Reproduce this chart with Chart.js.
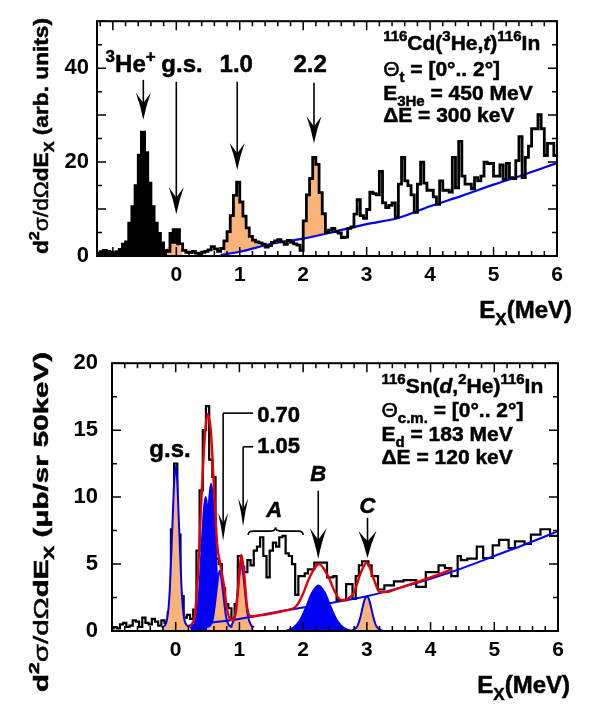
<!DOCTYPE html>
<html>
<head>
<meta charset="utf-8">
<script src="https://cdn.jsdelivr.net/npm/chart.js@4.4.1/dist/chart.umd.min.js"></script>
<style>
    html, body { margin: 0; padding: 0; background: #fff; }
    #wrap { position: relative; width: 589px; height: 704px; }
    #wrap canvas { position: absolute; left: 0; }
</style>
</head>
<body>
<div id="wrap">
    <canvas id="cd-chart" width="589" height="336" style="top:0"></canvas>
    <canvas id="sn-chart" width="589" height="368" style="top:336px"></canvas>
</div>
<script>
/*
 * Upper panel: 116Cd(3He,t)116In, 50 keV bins from -1.25 MeV
 */
const cdBinStart = -1.25;
const cdBinWidth = 0.05;
const cdCounts = [
    0.6, 0.9, 1.2, 1.0, 0.8, 0.6, 0.9, 1.4, 2.5, 3.0,
    7.0, 10.5, 15.0, 21.5, 26.4, 22.0, 15.5, 10.5, 7.0, 4.8,
    2.8, 1.2, 1.0, 4.8, 5.6, 5.6, 2.6, 1.2, 0.8, 0.7,
    1.0, 0.6, 0.5, 0.8, 1.0, 1.3, 2.0, 1.5, 1.0, 1.6,
    3.2, 5.2, 8.6, 12.9, 15.7, 11.5, 8.5, 6.0, 4.2, 3.4,
    3.0, 2.8, 2.5, 1.9, 2.2, 2.9, 3.2, 3.5, 3.0, 2.5,
    3.3, 2.9, 2.6, 2.3, 1.2, 7.5, 13.0, 16.5, 21.0, 19.5,
    13.5, 9.0, 5.0, 5.5, 5.9, 5.2, 4.9, 3.9, 4.0, 5.9,
    6.2, 8.9, 12.0, 8.6, 8.0, 9.9, 13.6, 13.3, 13.0, 18.0,
    11.3, 10.3, 10.8, 11.3, 8.3, 15.3, 21.0, 16.0, 15.0, 13.0,
    9.3, 15.3, 20.0, 15.5, 14.0, 14.0, 12.6, 11.0, 16.0, 14.0,
    14.0, 13.6, 21.0, 14.5, 24.4, 17.0, 15.3, 15.3, 14.3, 16.7,
    16.0, 17.0, 20.0, 19.7, 19.7, 17.0, 17.0, 19.4, 16.3, 19.7,
    16.7, 16.5, 20.3, 25.4, 16.7, 21.0, 23.4, 27.1, 27.1, 30.1,
    27.1, 21.4, 24.0, 24.0, 21.4
];
// bin index ranges: black 3He+ part, orange 1.0 and 2.2 MeV peaks
const cdContamBins = [0, 25];
const cdPeak1Bins  = [40, 50];
const cdPeak2Bins  = [65, 72];
// small orange g.s. contribution
const cdGsStart = -0.15;
const cdGsFill  = [1.8, 2.6, 2.6, 2.3, 1.6];
// blue background curve
const cdBgX = [0.7, 1.0, 1.5, 2.0, 2.5, 3.0, 3.5, 4.0, 4.5, 5.0, 5.5, 6.0];
const cdBgY = [0.2, 0.9, 2.6, 3.7, 5.2, 6.8, 8.1, 10.6, 12.8, 15.2, 17.4, 19.8];
const cdXTicks = [0, 1, 2, 3, 4, 5, 6];
const cdYTicks = [0, 20, 40];

/*
 * Lower panel: 116Sn(d,2He)116In, 50 keV bins centred on multiples of 50 keV
 */
const snBinStart = -1.025;
const snBinWidth = 0.05;
const snCounts = [
    0.2, 0.3, 0.2, 0.5, 0.6, 0.3, 0.4, 0.8, 0.7, 0.3,
    1.0, 0.6, 0.5, 0.9, 0.7, 0.4, 0.8, 0.6, 1.4, 7.6,
    12.5, 7.2, 2.6, 1.0, 1.2, 0.9, 1.6, 6.0, 10.5, 15.0,
    16.8, 12.8, 11.5, 5.4, 5.0, 3.2, 2.0, 1.7, 0.9, 2.0,
    5.6, 4.8, 4.4, 5.3, 4.9, 6.0, 6.3, 7.0, 5.6, 4.0,
    6.0, 6.6, 6.3, 7.0, 7.1, 5.8, 5.6, 5.0, 2.7, 4.1,
    4.1, 4.3, 4.6, 4.6, 5.1, 5.1, 5.1, 5.1, 4.0, 4.0,
    4.1, 2.3, 2.3, 2.3, 3.5, 3.5, 2.4, 4.1, 4.9, 5.2,
    5.2, 4.9, 4.1, 4.1, 3.1, 3.1, 3.4, 3.4, 3.4, 3.7,
    3.7, 3.7, 3.8, 3.8, 3.8, 3.8, 3.3, 3.3, 3.3, 4.4,
    4.4, 4.4, 4.4, 4.9, 4.9, 4.7, 4.7, 4.1, 4.1, 5.6,
    5.3, 5.3, 5.4, 5.4, 5.4, 6.3, 6.3, 5.45, 5.45, 5.45,
    6.4, 6.4, 6.8, 6.8, 6.8, 6.2, 6.2, 6.7, 6.7, 6.7,
    6.5, 6.5, 7.2, 7.2, 7.2, 7.6, 7.6, 7.6, 7.1, 7.1,
    7.1
];
// total fit (red)
const snFitX = [0.22, 0.25, 0.3, 0.35, 0.4, 0.45, 0.5, 0.55,
                0.6, 0.65, 0.7, 0.75, 0.8, 0.85, 0.9, 0.95, 1.0, 1.03, 1.07, 1.12, 1.18, 1.3, 1.5, 1.7,
                1.9, 2.0, 2.1, 2.25, 2.4, 2.5, 2.6, 2.7, 2.8, 2.9, 3.0, 3.1, 3.2, 3.3, 3.5, 3.75, 4.0, 4.33];
const snFitY = [0.4, 0.5, 1.2, 4.3, 9.5, 14.0, 16.2, 15.0,
                10.8, 6.5, 5.0, 3.6, 1.8, 0.9, 0.8, 1.6, 4.4, 5.7, 4.5, 1.8, 1.1, 1.15, 1.3, 1.5,
                1.9, 2.8, 4.0, 5.0, 4.0, 2.9, 2.3, 2.4, 2.9, 4.3, 5.1, 4.0, 2.9, 2.9, 3.2, 3.6, 4.0, 4.6];
// background (blue line)
const snBgX = [0.2, 0.6, 1.0, 1.5, 2.0, 2.5, 3.0, 3.5, 4.0, 4.5, 5.0, 5.5, 6.0];
const snBgY = [0.4, 0.65, 0.9, 1.35, 1.75, 2.15, 2.6, 3.2, 3.9, 4.7, 5.6, 6.5, 7.45];
// single peaks, orange: g.s., 0.70, 1.05, C
const snGsX   = [-0.22, -0.15, -0.1, -0.05, -0.025, 0, 0.025, 0.05, 0.1, 0.15, 0.22];
const snGsY   = [0.25, 0.6, 2.5, 8.1, 11.1, 12.3, 11.1, 8.1, 2.5, 0.6, 0.3];
const sn070X  = [0.49, 0.54, 0.59, 0.64, 0.665, 0.69, 0.715, 0.74, 0.79, 0.84, 0.89];
const sn070Y  = [0.3, 0.4, 1.1, 3.0, 4.0, 4.5, 4.0, 3.0, 1.1, 0.4, 0.3];
const sn105X  = [0.83, 0.88, 0.93, 0.98, 1.005, 1.03, 1.055, 1.08, 1.13, 1.18, 1.23];
const sn105Y  = [0.3, 0.45, 1.2, 3.3, 4.4, 5.0, 4.4, 3.3, 1.2, 0.45, 0.3];
const snCX    = [2.75, 2.85, 2.9, 2.95, 2.975, 3.0, 3.025, 3.05, 3.1, 3.15, 3.25];
const snCY    = [0.0, 0.35, 1.07, 2.1, 2.46, 2.6, 2.46, 2.1, 1.07, 0.35, 0.0];
// single peaks, blue: two at 0.5 MeV, B
const snP1X   = [0.23, 0.3, 0.36, 0.42, 0.445, 0.47, 0.495, 0.52, 0.58, 0.64, 0.71];
const snP1Y   = [0.2, 0.6, 2.4, 7.4, 9.2, 10.0, 9.2, 7.4, 2.4, 0.6, 0.2];
const snP2X   = [0.315, 0.385, 0.445, 0.505, 0.53, 0.555, 0.58, 0.605, 0.665, 0.725, 0.795];
const snP2Y   = [0.2, 0.6, 2.6, 8.1, 10.1, 11.0, 10.1, 8.1, 2.6, 0.6, 0.2];
const snBX    = [1.74, 1.84, 1.94, 2.04, 2.14, 2.24, 2.34, 2.44, 2.54, 2.64, 2.74];
const snBY    = [0.04, 0.21, 0.72, 1.7, 2.85, 3.4, 2.85, 1.7, 0.72, 0.21, 0.04];
const snXTicks = [0, 1, 2, 3, 4, 5, 6];
const snYTicks = [0, 5, 10, 15, 20];

const ORANGE = 'rgb(250, 180, 122)';
const BLUE   = 'rgb(0, 0, 245)';
const RED    = 'rgb(232, 0, 0)';
const FAMILY = '"Liberation Sans", Arial, Helvetica, sans-serif';

function font( size, flags ) {
    flags = flags || '';
    var it = flags.indexOf('i') >= 0 ? 'italic ' : '';
    var w  = flags.indexOf('n') >= 0 ? 'normal ' : 'bold ';
    return it + w + size + 'px ' + FAMILY;
}

// histogram bins -> points for a 'before' stepped line
function histPoints( start, width, values, from, to ) {
    var pts = [];
    for ( var i = from; i <= to; i++ )
        pts.push( { x: start + i * width, y: values[i] } );
    pts.push( { x: start + ( to + 1 ) * width, y: values[to] } );
    return pts;
}

function curvePoints( xs, ys ) {
    return xs.map( function( x, i ) { return { x: x, y: ys[i] }; } );
}

// text with super/subscripts; parts = [ [text, flags] ], flags: ^ sup, _ sub, i italic, n normal
function richSegments( ctx, parts, size ) {
    return parts.map( function( p ) {
        var f   = p[1] || '';
        var sml = f.indexOf('^') >= 0 || f.indexOf('_') >= 0;
        var sz  = sml ? Math.round( size * 0.7 ) : size;
        var dy  = f.indexOf('^') >= 0 ? -size * 0.42 : ( f.indexOf('_') >= 0 ? size * 0.3 : 0 );
        ctx.font = font( sz, f );
        return { t: p[0], f: font( sz, f ), dy: dy, w: ctx.measureText( p[0] ).width };
    } );
}

function drawRich( ctx, x, y, parts, size, align ) {
    var segs  = richSegments( ctx, parts, size );
    var total = segs.reduce( function( s, g ) { return s + g.w; }, 0 );
    var cx    = align === 'center' ? x - total / 2 : ( align === 'right' ? x - total : x );
    ctx.textAlign = 'left';
    ctx.textBaseline = 'alphabetic';
    ctx.lineWidth = 0.5;
    segs.forEach( function( g ) {
        ctx.font = g.f;
        ctx.fillText( g.t, cx, y + g.dy );
        ctx.strokeText( g.t, cx, y + g.dy );
        cx += g.w;
    } );
    return total;
}

// vertical title, baseline at x, centred on y, stretched to len pixels
function drawYTitle( ctx, x, y, parts, size, len ) {
    var segs  = richSegments( ctx, parts, size );
    var total = segs.reduce( function( s, g ) { return s + g.w; }, 0 );
    ctx.save();
    ctx.translate( x, y );
    ctx.rotate( -Math.PI / 2 );
    ctx.scale( len / total, 1 );
    drawRich( ctx, 0, 0, parts, size, 'center' );
    ctx.restore();
}

// arrow pointing down with a barbed head
function drawArrow( ctx, x, y0, tip, hw, hl ) {
    ctx.lineWidth = 1.6;
    ctx.beginPath();
    ctx.moveTo( x, y0 );
    ctx.lineTo( x, tip - hl * 0.6 );
    ctx.stroke();
    ctx.beginPath();
    ctx.moveTo( x, tip );
    ctx.quadraticCurveTo( x - hw * 0.2, tip - hl * 0.55, x - hw / 2, tip - hl );
    ctx.lineTo( x, tip - hl * 0.62 );
    ctx.lineTo( x + hw / 2, tip - hl );
    ctx.quadraticCurveTo( x + hw * 0.2, tip - hl * 0.55, x, tip );
    ctx.closePath();
    ctx.fill();
}

// frame with inward ticks on all four sides
function frameTicks( t ) {
    return {
        id: 'frameTicks',
        afterDatasetsDraw: function( chart ) {
            var ctx = chart.ctx, a = chart.chartArea, xs = chart.scales.x, ys = chart.scales.y;
            ctx.save();
            ctx.strokeStyle = '#000';
            ctx.lineWidth = 1.5;
            ctx.beginPath();
            var n = Math.round( ( xs.max - t.xFirst ) / t.xStep );
            for ( var i = 0; i <= n; i++ ) {
                var v = t.xFirst + i * t.xStep;
                var len = Math.abs( v - Math.round( v ) ) < 1e-6 ? t.major : t.minor;
                var px = xs.getPixelForValue( v );
                ctx.moveTo( px, a.bottom ); ctx.lineTo( px, a.bottom - len );
                ctx.moveTo( px, a.top );    ctx.lineTo( px, a.top + len );
            }
            var m = Math.round( ys.max / t.yStep );
            for ( var j = 0; j <= m; j++ ) {
                var w = j * t.yStep;
                var l2 = Math.abs( w / t.yMajor - Math.round( w / t.yMajor ) ) < 1e-6 ? t.major : t.minor;
                var py = ys.getPixelForValue( w );
                ctx.moveTo( a.left, py );  ctx.lineTo( a.left + l2, py );
                ctx.moveTo( a.right, py ); ctx.lineTo( a.right - l2, py );
            }
            ctx.stroke();
            ctx.lineWidth = 2;
            ctx.strokeRect( a.left, a.top, a.width, a.height );
            ctx.restore();
        }
    };
}

function annotations( draw ) {
    return {
        id: 'notes',
        afterDraw: function( chart ) {
            var ctx = chart.ctx;
            var P = function( x, y ) {
                return [ chart.scales.x.getPixelForValue( x ), chart.scales.y.getPixelForValue( y ) ];
            };
            ctx.save();
            ctx.fillStyle = '#000';
            ctx.strokeStyle = '#000';
            draw( ctx, P, chart );
            ctx.restore();
        }
    };
}

function baseOptions( o ) {
    return {
        responsive: false,
        animation: false,
        events: [],
        layout: { padding: { top: o.padTop, right: o.padRight, left: 0, bottom: 0 } },
        plugins: { legend: { display: false }, tooltip: { enabled: false } },
        elements: { point: { radius: 0 } },
        scales: {
            x: {
                type: 'linear', min: o.xMin, max: o.xMax,
                grid: { display: false, drawTicks: false }, border: { display: false },
                afterFit: function( s ) { s.height = o.xHeight; },
                afterBuildTicks: function( s ) { s.ticks = o.xTicks.map( function( v ) { return { value: v }; } ); },
                ticks: { color: '#000', padding: 7, maxRotation: 0, autoSkip: false, font: { family: FAMILY, size: 21, weight: 'bold' } }
            },
            y: {
                type: 'linear', min: 0, max: o.yMax,
                grid: { display: false, drawTicks: false }, border: { display: false },
                afterFit: function( s ) { s.width = o.yWidth; },
                afterBuildTicks: function( s ) { s.ticks = o.yTicks.map( function( v ) { return { value: v }; } ); },
                ticks: { color: '#000', padding: o.yPad, autoSkip: false, font: { family: FAMILY, size: 22, weight: 'bold' } }
            }
        }
    };
}

var yTitleParts = function( unit ) {
    return [ ['d'], ['2', '^'], ['\u03c3/d', 'n'], ['\u03a9', 'n'], ['dE'], ['X', '_'], [' ' + unit] ];
};
var xTitleParts = [ ['E'], ['X', '_'], ['(MeV)'] ];

/*
 * Upper chart
 */
new Chart( document.getElementById('cd-chart'), {
    type: 'line',
    data: {
        datasets: [
            {   // 0 spectrum
                data: histPoints( cdBinStart, cdBinWidth, cdCounts, 0, cdCounts.length - 1 ),
                stepped: 'before', borderColor: '#000', borderWidth: 2.8, fill: false, order: 0
            },
            {   // 1 background
                data: curvePoints( cdBgX, cdBgY ),
                cubicInterpolationMode: 'monotone', borderColor: BLUE, borderWidth: 2.2, fill: false, order: 1
            },
            {   // 2 peak 1.0
                data: histPoints( cdBinStart, cdBinWidth, cdCounts, cdPeak1Bins[0], cdPeak1Bins[1] ),
                stepped: 'before', borderWidth: 0, backgroundColor: ORANGE, fill: { target: 1 }, order: 2
            },
            {   // 3 peak 2.2
                data: histPoints( cdBinStart, cdBinWidth, cdCounts, cdPeak2Bins[0], cdPeak2Bins[1] ),
                stepped: 'before', borderWidth: 0, backgroundColor: ORANGE, fill: { target: 1 }, order: 2
            },
            {   // 4 g.s.
                data: histPoints( cdGsStart, cdBinWidth, cdGsFill, 0, cdGsFill.length - 1 ),
                stepped: 'before', borderWidth: 0, backgroundColor: ORANGE, fill: 'origin', order: 2
            },
            {   // 5 3He+ contamination
                data: histPoints( cdBinStart, cdBinWidth, cdCounts, cdContamBins[0], cdContamBins[1] ),
                stepped: 'before', borderWidth: 0, backgroundColor: '#000', fill: 'origin', order: 3
            }
        ]
    },
    options: baseOptions( { padTop: 8, padRight: 32, xMin: -1.25, xMax: 6, xHeight: 80, xTicks: cdXTicks,
                            yMax: 50, yWidth: 97, yPad: 8, yTicks: cdYTicks } ),
    plugins: [
        frameTicks( { xFirst: -1.2, xStep: 0.2, yStep: 5, yMajor: 10, major: 9, minor: 5 } ),
        annotations( function( ctx, P ) {
            [ [-0.52, 37.5, 29.0], [0.0, 37.1, 8.9], [0.96, 37.1, 18.3], [2.17, 36.9, 24.0] ].forEach( function( a ) {
                var s = P( a[0], a[1] ), e = P( a[0], a[2] );
                drawArrow( ctx, s[0], s[1], e[1], 15, 27 );
            } );
            var q;
            q = P( -0.72, 39.1 ); drawRich( ctx, q[0], q[1], [ ['3', '^'], ['He'], ['+', '^'] ], 24, 'center' );
            q = P( 0.09, 39.1 );  drawRich( ctx, q[0], q[1], [ ['g.s.'] ], 24, 'center' );
            q = P( 0.945, 39.1 ); drawRich( ctx, q[0], q[1], [ ['1.0'] ], 24, 'center' );
            q = P( 2.11, 39.1 );  drawRich( ctx, q[0], q[1], [ ['2.2'] ], 24, 'center' );

            q = P( 3.26, 43.95 );
            drawRich( ctx, q[0], q[1], [ ['116', '^'], ['Cd('], ['3', '^'], ['He,'], ['t', 'i'], [')'], ['116', '^'], ['In'] ], 21, 'left' );
            q = P( 3.26, 38.3 );
            drawRich( ctx, q[0], q[1], [ ['\u0398', 'n'], ['t', '_'], [' = [0\u00b0.. 2\u00b0]'] ], 21, 'left' );
            q = P( 3.26, 33.3 );
            drawRich( ctx, q[0], q[1], [ ['E'], ['3He', '_'], [' = 450 MeV'] ], 21, 'left' );
            q = P( 3.26, 28.6 );
            drawRich( ctx, q[0], q[1], [ ['\u0394E = 300 keV'] ], 21, 'left' );

            drawYTitle( ctx, 48, 136, yTitleParts( '(arb. units)' ), 21, 236 );
            drawRich( ctx, 572, 318, xTitleParts, 24, 'right' );
        } )
    ]
} );

/*
 * Lower chart
 */
function peakSet( xs, ys, fillColor, order ) {
    return {
        data: curvePoints( xs, ys ), cubicInterpolationMode: 'monotone',
        borderColor: BLUE, borderWidth: 2, backgroundColor: fillColor, fill: 'origin', order: order
    };
}

new Chart( document.getElementById('sn-chart'), {
    type: 'line',
    data: {
        datasets: [
            {   data: curvePoints( snFitX, snFitY ), cubicInterpolationMode: 'monotone',
                borderColor: RED, borderWidth: 2.4, fill: false, order: 0 },
            {   data: curvePoints( snBgX, snBgY ), cubicInterpolationMode: 'monotone',
                borderColor: BLUE, borderWidth: 2, fill: false, order: 1 },
            peakSet( snGsX, snGsY, ORANGE, 2 ),
            peakSet( sn070X, sn070Y, ORANGE, 2 ),
            peakSet( sn105X, sn105Y, ORANGE, 2 ),
            peakSet( snCX, snCY, ORANGE, 2 ),
            peakSet( snP1X, snP1Y, BLUE, 3 ),
            peakSet( snP2X, snP2Y, BLUE, 3 ),
            peakSet( snBX, snBY, BLUE, 3 ),
            {   data: histPoints( snBinStart, snBinWidth, snCounts, 0, snCounts.length - 1 ),
                stepped: 'before', borderColor: '#000', borderWidth: 2.2, fill: false, order: 4 }
        ]
    },
    options: baseOptions( { padTop: 16, padRight: 31, xMin: -1, xMax: 6, xHeight: 73, xTicks: snXTicks,
                            yMax: 20, yWidth: 112, yPad: 14, yTicks: snYTicks } ),
    plugins: [
        frameTicks( { xFirst: -1, xStep: 0.2, yStep: 2.5, yMajor: 5, major: 9, minor: 5 } ),
        annotations( function( ctx, P ) {
            var q, s, e;
            q = P( -0.09, 13.0 ); drawRich( ctx, q[0], q[1], [ ['g.s.'] ], 24, 'center' );

            // 0.70 and 1.05 brackets
            [ [0.744, 16.27, 6.74, 15.63, '0.70'], [1.058, 13.76, 7.81, 13.26, '1.05'] ].forEach( function( a ) {
                s = P( a[0], a[1] ); e = P( a[0], a[2] );
                var r = P( 1.215, a[1] );
                ctx.lineWidth = 1.6;
                ctx.beginPath();
                ctx.moveTo( r[0], s[1] );
                ctx.lineTo( s[0], s[1] );
                ctx.stroke();
                drawArrow( ctx, s[0], s[1], e[1], 10, 28 );
                q = P( 1.28, a[3] );
                drawRich( ctx, q[0], q[1], [ [a[4]] ], 22, 'left' );
            } );

            // A with brace
            q = P( 1.546, 8.53 ); drawRich( ctx, q[0], q[1], [ ['A', 'i'] ], 22, 'center' );
            var b0 = P( 1.137, 7.17 ), b1 = P( 2.0, 7.17 ), bm = P( 1.568, 7.46 ), bt = P( 1.568, 7.74 );
            ctx.lineWidth = 1.6;
            ctx.beginPath();
            ctx.moveTo( b0[0], b0[1] );
            ctx.quadraticCurveTo( b0[0], bm[1], b0[0] + 5, bm[1] );
            ctx.lineTo( bm[0] - 5, bm[1] );
            ctx.quadraticCurveTo( bm[0], bm[1], bt[0], bt[1] );
            ctx.quadraticCurveTo( bm[0], bm[1], bm[0] + 5, bm[1] );
            ctx.lineTo( b1[0] - 5, bm[1] );
            ctx.quadraticCurveTo( b1[0], bm[1], b1[0], b1[1] );
            ctx.stroke();

            // B and C arrows
            q = P( 2.237, 11.18 ); drawRich( ctx, q[0], q[1], [ ['B', 'i'] ], 22, 'center' );
            s = P( 2.237, 10.47 ); e = P( 2.237, 5.38 );
            drawArrow( ctx, s[0], s[1], e[1], 17, 31 );
            q = P( 3.01, 8.82 ); drawRich( ctx, q[0], q[1], [ ['C', 'i'] ], 22, 'center' );
            s = P( 3.01, 8.46 ); e = P( 3.01, 5.45 );
            drawArrow( ctx, s[0], s[1], e[1], 18, 27 );

            q = P( 3.23, 17.78 );
            drawRich( ctx, q[0], q[1], [ ['116', '^'], ['Sn('], ['d', 'i'], [','], ['2', '^'], ['He)'], ['116', '^'], ['In'] ], 21, 'left' );
            q = P( 3.23, 15.99 );
            drawRich( ctx, q[0], q[1], [ ['\u0398', 'n'], ['c.m.', '_'], [' = [0\u00b0.. 2\u00b0]'] ], 21, 'left' );
            q = P( 3.23, 14.19 );
            drawRich( ctx, q[0], q[1], [ ['E'], ['d', '_'], [' = 183 MeV'] ], 21, 'left' );
            q = P( 3.23, 12.47 );
            drawRich( ctx, q[0], q[1], [ ['\u0394E = 120 keV'] ], 21, 'left' );

            drawYTitle( ctx, 48, 186, yTitleParts( '(\u03bcb/sr 50keV)' ), 21, 340 );
            drawRich( ctx, 570, 357, xTitleParts, 24, 'right' );
        } )
    ]
} );
</script>
</body>
</html>
